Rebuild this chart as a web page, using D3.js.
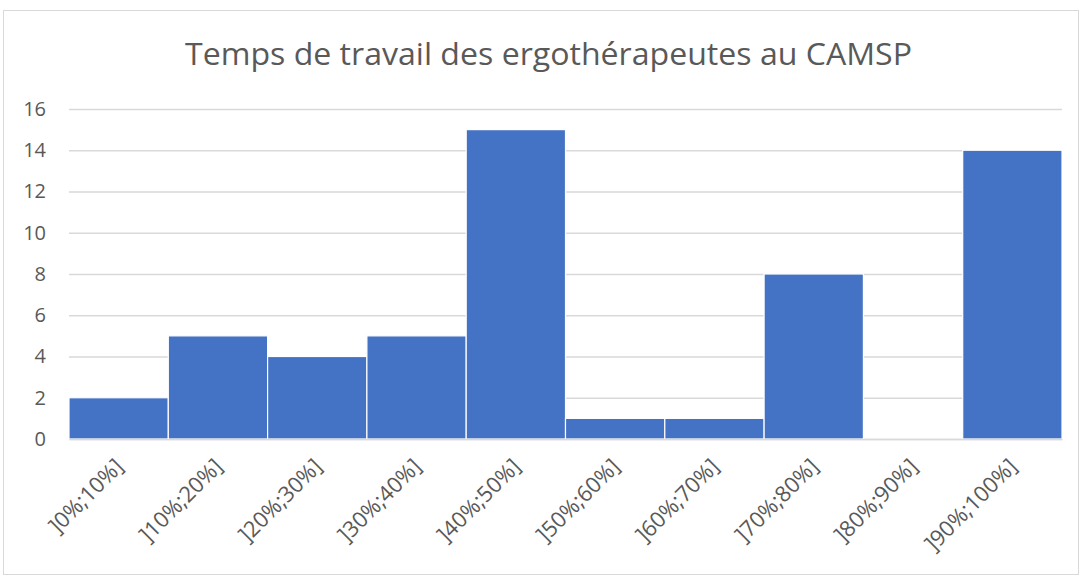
<!DOCTYPE html>
<html>
<head>
<meta charset="utf-8">
<script src="https://cdn.jsdelivr.net/npm/d3@7"></script>
<style>
  html, body { margin: 0; padding: 0; background: #fff; }
  svg { display: block; }
  text { font-family: "Open Sans", "Liberation Sans", sans-serif; fill: #595959; }
</style>
</head>
<body>
<svg id="chart" width="1083" height="575"></svg>
<script>
// Time-of-work classes and number of occupational therapists in each
const categories = ["]0%;10%]", "]10%;20%]", "]20%;30%]", "]30%;40%]", "]40%;50%]",
                    "]50%;60%]", "]60%;70%]", "]70%;80%]", "]80%;90%]", "]90%;100%]"];
const counts = [2, 5, 4, 5, 15, 1, 1, 8, 0, 14];
const yTicks = [0, 2, 4, 6, 8, 10, 12, 14, 16];
const title = "Temps de travail des ergothérapeutes au CAMSP";

const svg = d3.select("#chart");
const W = 1083, H = 575;
const plot = { left: 69, right: 1062, top: 109, bottom: 439 };
const FONT = "'Open Sans', 'Liberation Sans', sans-serif";

// outer frame
svg.append("rect")
  .attr("x", 3.5).attr("y", 10.5)
  .attr("width", W - 8).attr("height", H - 11)
  .attr("fill", "#fff").attr("stroke", "#d9d9d9").attr("stroke-width", 1);

// title
svg.append("text")
  .attr("x", 548.5)
  .attr("y", 65)
  .attr("text-anchor", "middle")
  .attr("font-size", 31)
  .attr("textLength", 727)
  .attr("lengthAdjust", "spacingAndGlyphs")
  .text(title);

const x = d3.scaleBand()
  .domain(categories)
  .range([plot.left, plot.right])
  .paddingInner(0).paddingOuter(0);

const y = d3.scaleLinear()
  .domain([0, 16])
  .range([plot.bottom, plot.top]);

// gridlines + y labels
const yAxis = d3.axisLeft(y)
  .tickValues(yTicks)
  .tickSize(-(plot.right - plot.left))
  .tickPadding(23)
  .tickFormat(d3.format("d"));

const gy = svg.append("g")
  .attr("transform", `translate(${plot.left},0)`)
  .call(yAxis);
gy.select(".domain").remove();
gy.selectAll(".tick line").attr("stroke", "#d9d9d9").attr("stroke-width", 1.3);
gy.selectAll(".tick text")
  .attr("font-size", 20)
  .attr("fill", "#595959")
  .attr("font-family", FONT);

// bars
svg.append("g")
  .selectAll("rect")
  .data(counts)
  .join("rect")
  .attr("x", (d, i) => x(categories[i]))
  .attr("y", d => y(d))
  .attr("width", x.bandwidth())
  .attr("height", d => y(0) - y(d))
  .attr("fill", "#4472c4")
  .attr("stroke", "#ffffff")
  .attr("stroke-width", 1.2);

// baseline and category labels
const xAxis = d3.axisBottom(x).tickSize(0).tickPadding(0);
const gx = svg.append("g")
  .attr("transform", `translate(0,${plot.bottom})`)
  .call(xAxis);
gx.select(".domain").attr("stroke", "#d9d9d9").attr("stroke-width", 1.3);
gx.selectAll(".tick text")
  .attr("font-size", 22)
  .attr("fill", "#595959")
  .attr("font-family", FONT)
  .attr("text-anchor", "end")
  .attr("dy", 0)
  .attr("transform", "translate(6,29) rotate(-45)");
</script>
</body>
</html>
